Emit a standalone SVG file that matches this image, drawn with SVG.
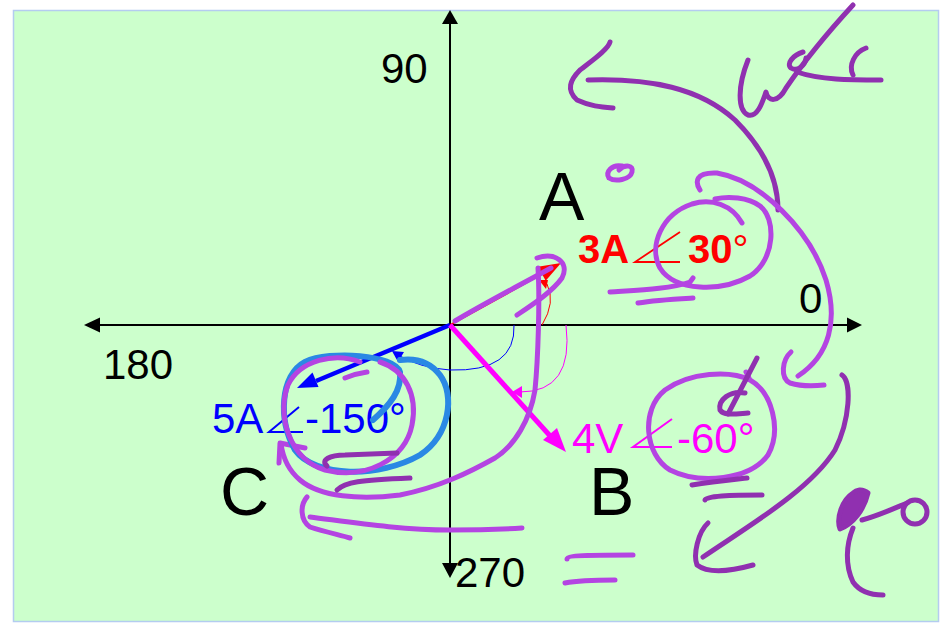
<svg xmlns="http://www.w3.org/2000/svg" width="941" height="627" viewBox="0 0 941 627">
<style>
.t{font-family:"Liberation Sans",Arial,sans-serif}
.ax{stroke:#000;stroke-width:2;fill:none}
.lp{stroke:#B444E2;stroke-width:5;fill:none;stroke-linecap:round;stroke-linejoin:round}
.dp{stroke:#9030B0;stroke-width:5;fill:none;stroke-linecap:round;stroke-linejoin:round}
.bl{stroke:#2A88E4;stroke-width:6;fill:none;stroke-linecap:round;stroke-linejoin:round}
</style>
<rect x="0" y="0" width="941" height="627" fill="#fff"/>
<rect x="13.5" y="10.5" width="925" height="611" fill="#CCFFCC" stroke="#B4CCF0" stroke-width="1.5"/>

<g id="axes">
<line class="ax" x1="450" y1="22" x2="450" y2="566"/>
<line class="ax" x1="98" y1="325" x2="849" y2="325"/>
<polygon points="450,10 442,24 458,24"/>
<polygon points="450,578 442,563 458,563"/>
<polygon points="84,325 100,317.5 100,332.5"/>
<polygon points="862,325 847,317.5 847,332.5"/>
<text class="t" x="381" y="83" font-size="42">90</text>
<text class="t" x="103" y="379" font-size="42">180</text>
<text class="t" x="799" y="313" font-size="42">0</text>
<text class="t" x="455" y="587" font-size="42">270</text>
</g>

<g id="node-A">
<text class="t" x="539" y="220" font-size="68">A</text>
<line x1="450" y1="325" x2="542" y2="274" stroke="#FF0000" stroke-width="2"/>
<polygon points="561,263 537.9,266.7 545.7,280.7" fill="#FF0000"/>
<path d="M542 325 Q556 302 547 284" stroke="#FF0000" stroke-width="1" fill="none"/>
<polygon points="539,280 548,280 546,289" fill="#FF0000"/>
<text class="t" x="578" y="263" font-size="40" font-weight="bold" fill="#FF0000">3A</text>
<polyline points="680,232 635,262 680,262" stroke="#FF0000" stroke-width="1.8" fill="none"/>
<text class="t" x="688" y="263" font-size="40" font-weight="bold" fill="#FF0000">30<tspan font-weight="normal">°</tspan></text>
</g>

<g id="node-C">
<text class="t" x="220" y="515" font-size="68">C</text>
<line x1="450" y1="325" x2="316" y2="381" stroke="#0000FF" stroke-width="4.5"/>
<polygon points="297,388 318.5,387 312.5,372.5" fill="#0000FF"/>
<path d="M514 325 Q516 372 450 370 Q420 368 398 355" stroke="#0000FF" stroke-width="1" fill="none"/>
<polygon points="392,351 404,352 398,362" fill="#0000FF"/>
<text class="t" x="212" y="433" font-size="42" fill="#0000FF">5A</text>
<polyline points="299,407 269,432 303,432" stroke="#0000FF" stroke-width="2" fill="none"/>
<text class="t" x="305" y="433" font-size="42" fill="#0000FF">-150°</text>
</g>

<g id="node-B">
<text class="t" x="589" y="515" font-size="68">B</text>
<line x1="450" y1="325" x2="552" y2="438" stroke="#FF00FF" stroke-width="5"/>
<polygon points="566,452 543,440 557,428" fill="#FF00FF"/>
<path d="M566 325 Q574 392 520 392" stroke="#FF00FF" stroke-width="1" fill="none"/>
<polygon points="512,392 522,386 522,398" fill="#FF00FF"/>
<text class="t" x="572" y="453" font-size="42" fill="#FF00FF">4V</text>
<polyline points="672,419 633,447 672,447" stroke="#FF00FF" stroke-width="2" fill="none"/>
<text class="t" x="677" y="453" font-size="42" fill="#FF00FF">-60°</text>
</g>

<g id="ink">
<!-- top arrow -->
<path class="dp" d="M588 80 C650 78 700 88 735 120 C765 150 778 180 778 210"/>
<path class="dp" d="M610 42 C608 50 590 62 580 70 C570 80 566 90 577 100 C590 106 600 107 613 108"/>
<!-- top right scribble -->
<path class="dp" d="M748 60 C738 85 737 110 748 115 C758 118 763 100 766 92 C768 102 778 103 786 88 C805 60 830 30 853 5"/>
<path class="dp" d="M803 52 C793 55 786 64 791 68 C797 72 805 66 806 58"/>
<path class="dp" d="M797 72 C820 80 850 80 881 80"/>
<path class="dp" d="M866 48 C855 52 848 65 853 75"/>
<!-- small oval -->
<path class="lp" d="M622 166 C612 164 605 172 609 178 C615 182 630 180 632 172 C634 165 625 164 619 170"/>
<!-- circle around 30 -->
<path class="lp" d="M742 223 C732 205 712 198 692 204 C662 214 648 246 660 268 C675 292 722 292 750 276 C776 259 776 218 760 206 C748 197 728 196 715 199"/>
<path class="lp" d="M700 190 C695 182 695 172 717 173 C760 180 810 230 826 280 C838 320 830 355 798 376"/>
<path class="lp" d="M610 292 C640 290 670 289 690 282 L693 278"/>
<path class="lp" d="M638 303 C655 300 675 299 693 298"/>
<!-- hook at right -->
<path class="lp" d="M791 352 C782 360 780 378 790 383 C800 386 815 386 824 385"/>
<!-- big down arrow right -->
<path class="dp" d="M842 375 C852 382 850 420 835 450 C810 490 750 525 703 557"/>
<path class="dp" d="M708 523 C698 532 693 555 697 565 C710 575 735 570 753 565"/>
<!-- circle around -60 -->
<path class="lp" d="M750 380 C730 370 690 372 665 390 C640 410 645 455 670 470 C700 485 750 480 768 455 C782 430 772 392 750 380 L746 372"/>
<path class="dp" d="M757 358 L728 414"/>
<path class="dp" d="M745 393 C730 390 718 400 720 410 C724 416 735 414 748 413"/>
<path class="dp" d="M692 485 C712 482 730 480 747 478"/>
<path class="dp" d="M705 500 C706 496 730 495 762 495"/>
<!-- q o -->
<path d="M853 493 C842 500 836 518 840 529 C853 524 864 510 868 493 C862 488 856 490 853 493 Z" fill="#9030B0" stroke="#9030B0" stroke-width="5" stroke-linejoin="round"/>
<path class="dp" d="M862 520 C880 515 895 508 907 503"/>
<circle class="dp" cx="915" cy="512" r="12"/>
<path class="dp" d="M853 528 C846 545 845 565 853 582 C860 592 872 595 883 595"/>
<!-- lines near 270 -->
<path class="lp" d="M567 559 C567 555 600 555 633 555"/>
<path class="lp" d="M565 583 C580 580 600 580 615 580"/>
<!-- bottom left arrow -->
<path class="lp" d="M307 497 C300 505 300 520 310 527 C325 532 340 535 350 538"/>
<path class="lp" d="M310 517 C350 522 400 530 450 530 C480 530 505 529 522 528"/>
<!-- stroke over A vector and hook -->
<path class="lp" d="M455 321 C485 303 520 285 551 268"/>
<path class="lp" d="M537 258 C555 252 570 262 562 278 C552 292 532 305 517 315"/>
<!-- big sweeping stroke -->
<path class="lp" d="M538 268 C540 300 538 360 535 390 C530 420 515 445 495 458 C470 472 440 487 400 495 C360 500 320 497 300 480 C288 470 283 458 281 444"/>
<path class="lp" d="M279 463 L280 443 L305 448"/>
<!-- blue loop -->
<path class="bl" d="M373 420 C390 405 402 390 400 372 C395 355 330 350 305 362 C280 375 278 420 295 450 C315 478 380 478 420 455 C450 435 455 395 440 375 C430 362 415 358 400 360"/>
<!-- purple circle around 5A -->
<path class="lp" d="M345 378 C352 375 360 373 367 372"/>
<path class="lp" d="M360 362 C335 352 300 360 288 385 C276 415 290 460 325 470 C365 480 405 460 412 425 C418 395 405 370 380 362"/>
<path class="dp" d="M327 466 C320 460 330 455 345 455 L397 453"/>
<path class="dp" d="M337 490 C345 482 360 480 410 478"/>
</g>
</svg>
